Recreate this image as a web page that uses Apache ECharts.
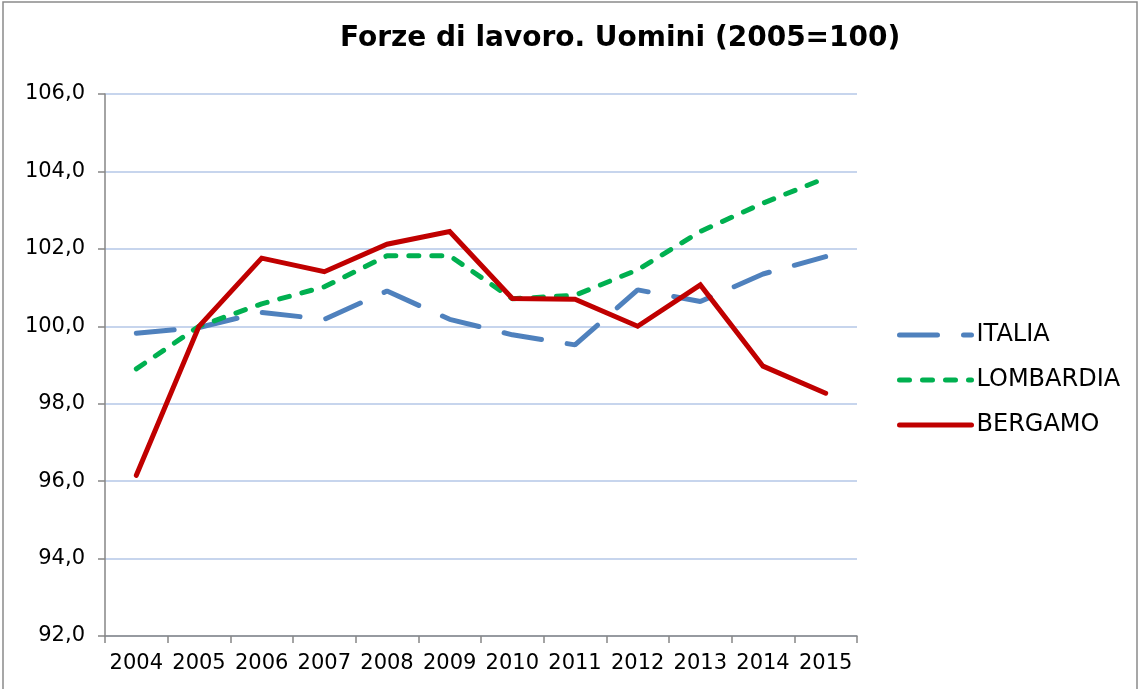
<!DOCTYPE html>
<html>
<head>
<meta charset="utf-8">
<script src="https://cdn.jsdelivr.net/npm/echarts@6/dist/echarts.min.js"></script>
<style>
  html, body { margin: 0; padding: 0; background: #fff; }
  #chart { width: 1140px; height: 689px; }
</style>
</head>
<body>
<div id="chart"></div>
<script>
const years = ['2004', '2005', '2006', '2007', '2008', '2009', '2010', '2011', '2012', '2013', '2014', '2015']
const italia = [99.82, 99.97, 100.36, 100.18, 100.91, 100.18, 99.78, 99.52, 100.94, 100.64, 101.35, 101.8]
const lombardia = [98.9, 100.0, 100.58, 101.02, 101.82, 101.82, 100.71, 100.8, 101.46, 102.45, 103.18, 103.83]
const bergamo = [96.15, 100.0, 101.76, 101.41, 102.12, 102.45, 100.72, 100.7, 100.0, 101.07, 98.97, 98.27]

const chart = echarts.init(document.getElementById('chart'))
const font = 'DejaVu Sans, Verdana, sans-serif'

chart.setOption({
  backgroundColor: '#fff',
  animation: false,
  textStyle: { fontFamily: font },
  graphic: [{
    type: 'rect',
    shape: { x: 3, y: 2, width: 1134, height: 720 },
    style: { fill: 'none', stroke: '#8a8a8a', lineWidth: 1.5 }
  }],
  title: {
    text: 'Forze di lavoro. Uomini (2005=100)',
    left: 335,
    top: 20,
    textStyle: { fontFamily: font, fontWeight: 'bold', fontSize: 28, color: '#000' }
  },
  legend: {
    orient: 'vertical',
    left: 892,
    top: 318,
    itemWidth: 72,
    itemHeight: 24,
    itemGap: 21,
    itemStyle: { opacity: 0 },
    lineStyle: { width: 5, cap: 'round' },
    textStyle: { fontFamily: font, fontSize: 24, color: '#000' },
    data: ['ITALIA', 'LOMBARDIA', 'BERGAMO']
  },
  grid: {
    left: 105,
    right: 283,
    top: 94,
    bottom: 53
  },
  xAxis: {
    type: 'category',
    data: years,
    boundaryGap: true,
    axisLine: { lineStyle: { color: '#868686', width: 1.5 } },
    axisTick: { show: true, length: 7, lineStyle: { color: '#868686', width: 1.5 } },
    axisLabel: { color: '#000', fontSize: 21, margin: 17, fontFamily: font, interval: 0 },
    splitLine: { show: false }
  },
  yAxis: {
    type: 'value',
    min: 92,
    max: 106,
    interval: 2,
    axisLine: { show: true, lineStyle: { color: '#868686', width: 1.5 } },
    axisTick: { show: true, length: 7, lineStyle: { color: '#868686', width: 1.5 } },
    axisLabel: {
      color: '#000',
      fontSize: 21,
      margin: 20,
      fontFamily: font,
      formatter: v => v.toFixed(1).replace('.', ',')
    },
    splitLine: { lineStyle: { color: '#b4c7e7', width: 1.5 } }
  },
  series: [
    {
      name: 'ITALIA',
      type: 'line',
      data: italia,
      symbol: 'none',
      color: '#4f81bd',
      lineStyle: { color: '#4f81bd', width: 5, type: [38, 26], cap: 'round' }
    },
    {
      name: 'LOMBARDIA',
      type: 'line',
      data: lombardia,
      symbol: 'none',
      color: '#00b050',
      lineStyle: { color: '#00b050', width: 5, type: [10, 13], cap: 'round' }
    },
    {
      name: 'BERGAMO',
      type: 'line',
      data: bergamo,
      symbol: 'none',
      color: '#c00000',
      lineStyle: { color: '#c00000', width: 5, cap: 'round', join: 'miter' }
    }
  ]
})
</script>
</body>
</html>
